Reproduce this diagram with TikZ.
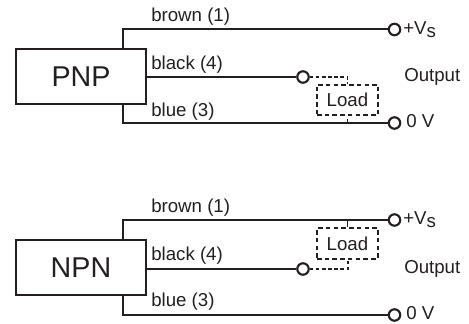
\documentclass[tikz,border=0pt]{standalone}
\usepackage{fontspec}
\setmainfont{Liberation Sans}
\definecolor{inkblack}{HTML}{231F20}
\tikzset{
  wire/.style={line width=1.5pt,inkblack},
  thinwire/.style={line width=1pt,inkblack,dash pattern=on 2.6pt off 2pt},
  sensor/.style={draw=inkblack,line width=1.5pt,minimum width=97.5pt,minimum height=41.25pt,inner sep=0pt,font=\fontsize{21.5}{24}\selectfont,text=inkblack},
  terminal/.style={circle,draw=inkblack,line width=1.6pt,minimum size=8.6pt,inner sep=0pt},
  loadbox/.style={draw=inkblack,line width=1.3pt,dash pattern=on 3.4pt off 2.4pt,minimum width=45.75pt,minimum height=23pt,inner sep=0pt,font=\fontsize{14}{16}\selectfont,text=inkblack},
  lab/.style={anchor=base west,inner sep=0pt,font=\fontsize{14}{16}\selectfont,text=inkblack}
}
\begin{document}
\begin{tikzpicture}[x=0.75pt,y=-0.75pt]
\useasboundingbox (0,0) rectangle (469,324);
% PNP
\node[sensor]   (pnp)    at (81,76.5) {PNP};
\node[terminal] (pnpvs)  at (394.5,29.5) {};
\node[terminal] (pnpout) at (303,77) {};
\node[terminal] (pnpgnd) at (394.5,123) {};
\node[loadbox]  (pnpload) at (347.5,100) {Load};
\coordinate (pnpa) at (123,29.5);
\coordinate (pnpb) at (123,123);
\coordinate (pnpc) at (347.5,77);
\coordinate (pnpd) at (347.5,123);
\draw[wire] (pnpa |- pnp.north) -- (pnpa) -- (pnpvs);
\draw[wire] (pnp.east |- pnpout) -- (pnpout);
\draw[wire] (pnpb |- pnp.south) -- (pnpb) -- (pnpgnd);
\draw[thinwire] (pnpout) -- (pnpc) -- (pnpload.north);
\draw[line width=0.8pt,inkblack] (pnpload.south) ++(0,3) -- (pnpd);
\node[lab] (pnpbrown) at (151,22) {brown (1)};
\node[lab] (pnpblack) at (151,69.5) {black (4)};
\node[lab] (pnpblue)  at (151,116.5) {blue (3)};
\node[lab] (pnpvstxt) at (403,34.5) {+V\raisebox{-2pt}{s}};
\node[lab] (pnpouttxt) at (404,81.5) {Output};
\node[lab] (pnpgndtxt) at (406,128) {0 V};
% NPN
\node[sensor]   (npn)    at (81,267.5) {NPN};
\node[terminal] (npnvs)  at (394.5,220) {};
\node[terminal] (npnout) at (303,269) {};
\node[terminal] (npngnd) at (394.5,315) {};
\node[loadbox]  (npnload) at (347.5,243.5) {Load};
\coordinate (npna) at (123,220);
\coordinate (npnb) at (123,315);
\coordinate (npnc) at (348,269);
\coordinate (npnd) at (347.5,220);
\draw[wire] (npna |- npn.north) -- (npna) -- (npnvs);
\draw[wire] (npn.east |- npnout) -- (npnout);
\draw[wire] (npnb |- npn.south) -- (npnb) -- (npngnd);
\draw[thinwire] (npnout) -- (npnc) -- (npnc |- npnload.south);
\draw[line width=0.8pt,inkblack] (npnd) -- (npnload.north);
\node[lab] (npnbrown) at (151,213) {brown (1)};
\node[lab] (npnblack) at (151,261) {black (4)};
\node[lab] (npnblue)  at (151,307) {blue (3)};
\node[lab] (npnvstxt) at (403,225) {+V\raisebox{-2pt}{s}};
\node[lab] (npnouttxt) at (404,273.5) {Output};
\node[lab] (npngndtxt) at (406,320) {0 V};
\end{tikzpicture}
\end{document}
